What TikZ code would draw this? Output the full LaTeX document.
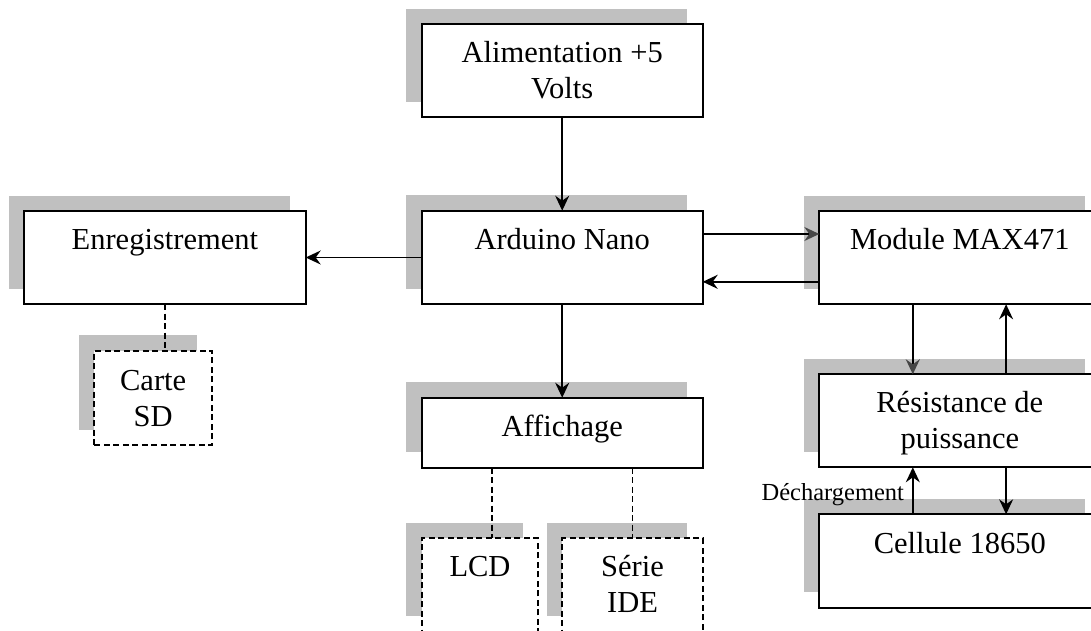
\documentclass[tikz,border=0pt]{standalone}
\usepackage{fontspec}
\setmainfont{Liberation Serif}
\usetikzlibrary{arrows.meta,shadows}
\definecolor{shgray}{RGB}{192,192,192}
\definecolor{tipgray}{RGB}{70,70,70}
\tikzset{
  blk/.style={draw, line width=1.8pt, fill=white, minimum width=#1, inner sep=0pt, outer sep=0pt,
    general shadow={fill=shgray, draw=none, solid, shadow xshift=-15.5pt, shadow yshift=15.5pt}},
  dblk/.style={blk=#1, dash pattern=on 6pt off 3.5pt},
  txt/.style={font=\fontsize{30.5}{36}\selectfont, align=center, anchor=base, inner sep=0pt},
  lbl/.style={font=\fontsize{24.5}{29}\selectfont, inner sep=0pt},
  arr/.style={line width=1.6pt, -{Stealth[length=15pt, width=14pt, inset=5pt]}},
  arrg/.style={line width=1.6pt, -{Stealth[length=15pt, width=14pt, inset=5pt, color=tipgray]}},
  dline/.style={line width=1.6pt, dash pattern=on 6pt off 3.5pt}
}
\begin{document}
\begin{tikzpicture}[x=1pt, y=-1pt]
\path[use as bounding box, clip] (0,0) rectangle (1091,630);
% boxes
\node[blk=281pt, minimum height=93pt] (alim) at (562.2,70.5) {};
\node[blk=281pt, minimum height=93.6pt] (ard) at (562.2,257.5) {};
\node[blk=281pt, minimum height=70pt] (aff) at (562.2,432.7) {};
\node[blk=281.7pt, minimum height=93pt] (enr) at (164.85,257.5) {};
\node[dblk=117.7pt, minimum height=94.3pt] (sd) at (153.15,397.85) {};
\node[blk=281pt, minimum height=93pt] (mod) at (959.8,257.8) {};
\node[blk=281pt, minimum height=93pt] (res) at (959.8,420.8) {};
\node[blk=281pt, minimum height=93.4pt] (cel) at (959.8,561) {};
\node[dblk=116.6pt, minimum height=93.4pt] (lcd) at (480,585) {};
\node[dblk=140.4pt, minimum height=93.4pt] (ser) at (632.5,585) {};
% texts (base anchor = last line)
\node[txt] at ([yshift=-74.6pt]alim.north) {Alimentation +5\\Volts};
\node[txt] at ([yshift=-38.6pt]ard.north) {Arduino Nano};
\node[txt] at ([yshift=-38.4pt]aff.north) {Affichage};
\node[txt] at ([yshift=-38.8pt]enr.north) {Enregistrement};
\node[txt] at ([yshift=-75.5pt]sd.north) {Carte\\SD};
\node[txt] at ([yshift=-38.6pt]mod.north) {Module MAX471};
\node[txt] at ([yshift=-73.8pt]res.north) {Résistance de\\puissance};
\node[txt] at ([yshift=-39pt]cel.north) {Cellule 18650};
\node[txt] at ([yshift=-38.4pt]lcd.north) {LCD};
\node[txt] at ([yshift=-74.4pt]ser.north) {Série\\IDE};
% connectors
\draw[arr] (alim.south) -- (ard.north);
\draw[arr] (ard.west) -- (enr.east);
\draw[arr] (ard.south) -- (aff.north);
\draw[arrg] ([yshift=23.5pt]ard.east) -- ([yshift=23.5pt]ard.east -| mod.west);
\draw[arr] ([yshift=-24pt]mod.west) -- ([yshift=-24pt]mod.west -| ard.east);
\draw[arrg] ([xshift=-47pt]mod.south) -- ([xshift=-47pt]mod.south |- res.north);
\draw[arr] ([xshift=46.3pt]res.north) -- ([xshift=46.3pt]res.north |- mod.south);
\draw[arr] ([xshift=-47pt]cel.north) -- ([xshift=-47pt]cel.north |- res.south)
  node[lbl, pos=0, anchor=base east, xshift=-8pt, yshift=13.6pt] {Déchargement};
\draw[arr] ([xshift=46.3pt]res.south) -- ([xshift=46.3pt]res.south |- cel.north);
\draw[dline] (enr.south) -- (enr.south |- sd.north);
\draw[dline] ([xshift=-70.5pt]aff.south) -- ([xshift=-70.5pt]aff.south |- lcd.north);
\draw[dline] (aff.south -| ser.north) -- (ser.north);
\end{tikzpicture}
\end{document}
